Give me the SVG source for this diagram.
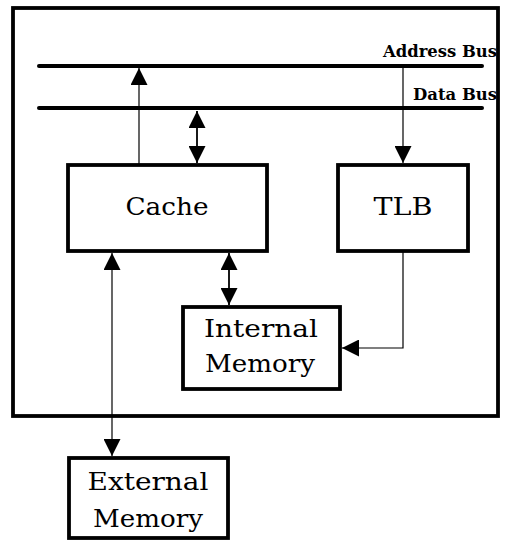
<svg xmlns="http://www.w3.org/2000/svg" width="511" height="541" viewBox="0 0 511 541">
  <style>
    .box { fill: #fff; stroke: #000; stroke-width: 3.8; }
    .bus { stroke: #000; stroke-width: 4; stroke-linecap: round; }
    .wire { fill: none; stroke: #000; stroke-width: 1.2; }
    .wire2 { fill: none; stroke: #000; stroke-width: 1.8; }
    .lbl { font-family: "DejaVu Serif", "Liberation Serif", serif; font-size: 24.5px; fill: #000; text-anchor: middle; }
    .buslbl { font-family: "DejaVu Serif", "Liberation Serif", serif; font-size: 16px; font-weight: bold; fill: #000; text-anchor: end; }
  </style>
  <defs>
    <marker id="tri" viewBox="0 0 10 10" refX="10" refY="5" markerWidth="17" markerHeight="17" markerUnits="userSpaceOnUse" orient="auto-start-reverse">
      <path d="M0,0 L10,5 L0,10 Z" fill="#000"/>
    </marker>
  </defs>
  <rect width="511" height="541" fill="#fff"/>

  <!-- processor enclosure -->
  <rect id="chip" x="13" y="8" width="485" height="408" fill="none" stroke="#000" stroke-width="3.8"/>

  <!-- buses -->
  <g id="buses">
    <line class="bus" x1="39" y1="66" x2="482" y2="66"/>
    <line class="bus" x1="39" y1="108" x2="482" y2="108"/>
    <text class="buslbl" x="497" y="57" textLength="114" lengthAdjust="spacingAndGlyphs">Address Bus</text>
    <text class="buslbl" x="497" y="100" textLength="84" lengthAdjust="spacingAndGlyphs">Data Bus</text>
  </g>

  <!-- connectors -->
  <g id="connectors">
    <line class="wire" x1="139" y1="165" x2="139" y2="68" marker-end="url(#tri)"/>
    <line class="wire2" x1="197" y1="111" x2="197" y2="163" marker-start="url(#tri)" marker-end="url(#tri)"/>
    <line class="wire" x1="403" y1="67" x2="403" y2="163" marker-end="url(#tri)"/>
    <line class="wire2" x1="229" y1="253" x2="229" y2="305" marker-start="url(#tri)" marker-end="url(#tri)"/>
    <polyline class="wire" points="403,251 403,348 342,348" marker-end="url(#tri)"/>
    <line class="wire" x1="112" y1="253" x2="112" y2="456" marker-start="url(#tri)" marker-end="url(#tri)"/>
  </g>

  <g id="cache">
    <rect class="box" x="68" y="165" width="199" height="86"/>
    <text class="lbl" x="167" y="215" textLength="83" lengthAdjust="spacingAndGlyphs">Cache</text>
  </g>

  <g id="tlb">
    <rect class="box" x="338" y="165" width="130" height="86"/>
    <text class="lbl" x="403" y="215" textLength="59" lengthAdjust="spacingAndGlyphs">TLB</text>
  </g>

  <g id="internal-memory">
    <rect class="box" x="183" y="307" width="157" height="82"/>
    <text class="lbl" x="261" y="337" textLength="114" lengthAdjust="spacingAndGlyphs">Internal</text>
    <text class="lbl" x="260" y="372" textLength="110" lengthAdjust="spacingAndGlyphs">Memory</text>
  </g>

  <g id="external-memory">
    <rect class="box" x="69" y="458" width="159" height="80"/>
    <text class="lbl" x="148" y="490" textLength="121" lengthAdjust="spacingAndGlyphs">External</text>
    <text class="lbl" x="148" y="527" textLength="110" lengthAdjust="spacingAndGlyphs">Memory</text>
  </g>
</svg>
